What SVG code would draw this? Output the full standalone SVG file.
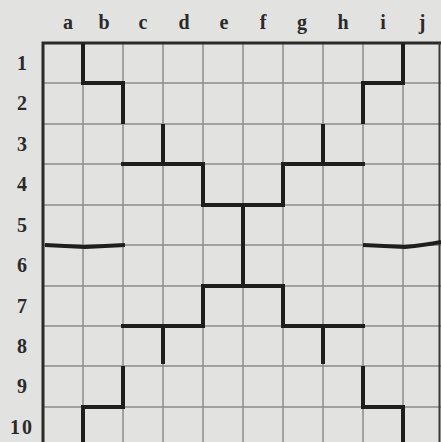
<svg xmlns="http://www.w3.org/2000/svg" width="441" height="442" viewBox="0 0 441 442">
<style>
.lbl{font-family:"Liberation Serif",serif;font-weight:bold;font-size:20px;fill:#2a2a2a;text-anchor:middle}
.grid{stroke:#8c8c8c;stroke-width:1.5;fill:none}
.border{stroke:#2a2a2a;stroke-width:3;fill:none}
.wall{stroke:#1e1e1e;stroke-width:4;fill:none;stroke-linecap:square}
</style>
<rect width="441" height="442" fill="#e2e2e0"/>
<g id="labels">
<text class="lbl" x="68" y="29">a</text>
<text class="lbl" x="104" y="29">b</text>
<text class="lbl" x="143" y="29">c</text>
<text class="lbl" x="184" y="29">d</text>
<text class="lbl" x="224" y="29">e</text>
<text class="lbl" x="263" y="29">f</text>
<text class="lbl" x="302" y="29">g</text>
<text class="lbl" x="343" y="29">h</text>
<text class="lbl" x="383" y="29">i</text>
<text class="lbl" x="422" y="29">j</text>
<text class="lbl" x="22" y="70">1</text>
<text class="lbl" x="22" y="110">2</text>
<text class="lbl" x="22" y="151">3</text>
<text class="lbl" x="22" y="191">4</text>
<text class="lbl" x="22" y="232">5</text>
<text class="lbl" x="22" y="272">6</text>
<text class="lbl" x="22" y="313">7</text>
<text class="lbl" x="22" y="353">8</text>
<text class="lbl" x="22" y="393">9</text>
<text class="lbl" x="22" y="434" letter-spacing="2">10</text>
</g>
<g id="grid">
<path class="grid" d="M83 43V442M123 43V442M163 43V442M203 43V442M243 43V442M283 43V442M323 43V442M363 43V442M403 43V442"/>
<path class="grid" d="M43 83H441M43 124H441M43 164H441M43 205H441M43 245H441M43 286H441M43 326H441M43 366H441M43 407H441"/>
<path class="border" d="M43 442V43H441"/>
<path d="M439.5 43V442" stroke="#3a3a3a" stroke-width="2"/>
</g>
<g id="walls">
<path class="wall" d="M83 45V83H123V122"/>
<path class="wall" d="M403 45V83H363V122"/>
<path class="wall" d="M163 126V164M123 164H203V205H283V164H363M323 126V164"/>
<path class="wall" d="M243 205V286M123 326H203V286H283V326H363M163 326V362M323 326V362"/>
<path class="wall" d="M123 368V407H83V442"/>
<path class="wall" d="M363 368V407H403V442"/>
<path d="M45 245Q65 246 85 247Q105 246 125 245" stroke="#1e1e1e" stroke-width="4" fill="none"/>
<path d="M363 245Q385 246 405 247Q425 245 441 242" stroke="#1e1e1e" stroke-width="4" fill="none"/>
</g>
</svg>
